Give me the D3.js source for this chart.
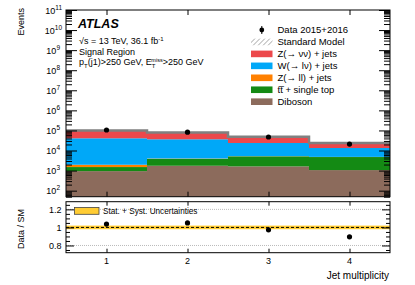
<!DOCTYPE html>
<html>
<head>
<meta charset="utf-8">
<script src="https://cdn.jsdelivr.net/npm/d3@7"></script>
<style>
  body { margin: 0; background: #fff; }
  text { font-family: "Liberation Sans", Arial, sans-serif; fill: #000; }
</style>
</head>
<body>
<div id="chart"></div>
<script>
// data
var bins = [1, 2, 3, 4];
var dataEvents = [105000, 82000, 47000, 21000];
var diboson = [940, 1740, 1620, 1060];
var ttbar = [560, 2110, 3510, 3670];
var zll = [450, 150, 100, 80];
var wlv = [38700, 32300, 18470, 8500];
var znn = [60000, 41700, 24600, 10090];
var ratio = [1.037, 1.05, 0.973, 0.896];
var decades = [2, 3, 4, 5, 6, 7, 8, 9, 10, 11];
var ratioTicks = ["0.8", "1", "1.2"];

var series = [
  {name: "Diboson", vals: diboson, color: "#8c6b5c"},
  {name: "tt\u0305 + single top", vals: ttbar, color: "#148a14"},
  {name: "Z(\u2192 ll) + jets", vals: zll, color: "#ff8000"},
  {name: "W(\u2192 l\u03bd) + jets", vals: wlv, color: "#00a8f8"},
  {name: "Z(\u2192 \u03bd\u03bd) + jets", vals: znn, color: "#ec484b"}
];

var W = 415, H = 285;
var left = 66, right = 390;
var mainTop = 10, mainBot = 196.7;
var rTop = 201.7, rBot = 252.7;

var svg = d3.select("#chart").append("svg")
  .attr("width", W).attr("height", H);

var x = d3.scaleLinear().domain([0.5, 4.5]).range([left, right]);
var y = d3.scaleLog().domain([50, 1e11]).range([mainBot, mainTop]).clamp(true);
var yr = d3.scaleLinear().domain([0.72, 1.285]).range([rBot, rTop]);

// stacked histogram
var cum = bins.map(function() { return 0; });
series.forEach(function(s) {
  var lows = cum.slice();
  cum = cum.map(function(c, i) { return c + s.vals[i]; });
  var highs = cum.slice();
  svg.append("g").selectAll("rect")
    .data(bins)
    .enter().append("rect")
    .attr("x", function(d) { return x(d - 0.5); })
    .attr("width", function(d) { return x(d + 0.5) - x(d - 0.5); })
    .attr("y", function(d, i) { return y(highs[i]); })
    .attr("height", function(d, i) { return (lows[i] > 0 ? y(lows[i]) : mainBot) - y(highs[i]); })
    .attr("fill", s.color);
});
var totals = cum;

// SM total outline
var step = [];
bins.forEach(function(b, i) {
  step.push([x(b - 0.5), y(totals[i])]);
  step.push([x(b + 0.5), y(totals[i])]);
});
svg.append("path")
  .attr("d", d3.line()(step))
  .attr("fill", "none")
  .attr("stroke", "#808080")
  .attr("stroke-width", 2.5);

// data points
svg.append("g").selectAll("circle")
  .data(bins)
  .enter().append("circle")
  .attr("cx", function(d) { return x(d); })
  .attr("cy", function(d, i) { return y(dataEvents[i]); })
  .attr("r", 2.6)
  .attr("fill", "#000");

// main axes (ticks inside)
var majorVals = decades.map(function(e) { return Math.pow(10, e); });
var minorVals = [];
for (var e = 1; e < 11; e++) {
  for (var m = 2; m < 10; m++) {
    var v = m * Math.pow(10, e);
    if (v >= 50) minorVals.push(v);
  }
}
svg.append("g").attr("transform", "translate(" + left + ",0)")
  .call(d3.axisLeft(y).tickValues(majorVals).tickSize(-11).tickFormat(""));
svg.append("g").attr("transform", "translate(" + left + ",0)")
  .call(d3.axisLeft(y).tickValues(minorVals).tickSize(-6).tickFormat(""));
svg.append("g").attr("transform", "translate(" + right + ",0)")
  .call(d3.axisRight(y).tickValues(majorVals).tickSize(-11).tickFormat(""));
svg.append("g").attr("transform", "translate(" + right + ",0)")
  .call(d3.axisRight(y).tickValues(minorVals).tickSize(-6).tickFormat(""));
svg.append("g").attr("transform", "translate(0," + mainBot + ")")
  .call(d3.axisBottom(x).tickValues(bins).tickSize(-5).tickFormat(""));
svg.append("g").attr("transform", "translate(0," + mainTop + ")")
  .call(d3.axisTop(x).tickValues(bins).tickSize(-5).tickFormat(""));
svg.selectAll(".domain").remove();

svg.append("rect")
  .attr("x", left).attr("y", mainTop)
  .attr("width", right - left).attr("height", mainBot - mainTop)
  .attr("fill", "none").attr("stroke", "#000").attr("stroke-width", 1);

// log labels
var lbl = svg.append("g").selectAll("text")
  .data(decades)
  .enter().append("text")
  .attr("x", function(d) { return d >= 10 ? 62 : 60; })
  .attr("y", function(d) { return y(Math.pow(10, d)) + 3.5; })
  .attr("text-anchor", "end")
  .style("font-size", "9px");
lbl.append("tspan").text("10");
lbl.append("tspan").attr("dy", -4).style("font-size", "6.5px").text(function(d) { return d; });

svg.append("text")
  .attr("transform", "translate(24,8) rotate(-90)")
  .attr("text-anchor", "end")
  .style("font-size", "9px")
  .text("Events");

// ATLAS labels
svg.append("text").attr("x", 78).attr("y", 28)
  .style("font-size", "12.5px").style("font-weight", "bold").style("font-style", "italic")
  .text("ATLAS");
var t1 = svg.append("text").attr("x", 79).attr("y", 44).style("font-size", "9px");
t1.append("tspan").text("\u221As = 13 TeV, 36.1 fb");
t1.append("tspan").attr("dy", -3.5).style("font-size", "6px").text("-1");
svg.append("text").attr("x", 79).attr("y", 55).style("font-size", "9px").text("Signal Region");
var t3 = svg.append("text").attr("x", 79).attr("y", 65).style("font-size", "9px");
t3.append("tspan").text("p");
t3.append("tspan").attr("dy", 2.5).style("font-size", "6px").text("T");
t3.append("tspan").attr("dy", -2.5).text("(j1)>250 GeV, E");
t3.append("tspan").attr("dy", 2.5).style("font-size", "6px").text("T");
t3.append("tspan").attr("dx", -4).attr("dy", -6).style("font-size", "5.5px").text("miss");
t3.append("tspan").attr("dy", 3.5).text(">250 GeV");

// legend
var defs = svg.append("defs");
var pat = defs.append("pattern").attr("id", "hatch")
  .attr("patternUnits", "userSpaceOnUse").attr("width", 3.5).attr("height", 3.5)
  .attr("patternTransform", "rotate(45)");
pat.append("line").attr("x1", 0).attr("y1", 0).attr("x2", 0).attr("y2", 3.5)
  .attr("stroke", "#777").attr("stroke-width", 1);

var legRows = [
  {name: "Data 2015+2016", type: "data"},
  {name: "Standard Model", type: "sm"}
].concat(series.slice().reverse().map(function(s) { return {name: s.name, type: "fill", color: s.color}; }));

var leg = svg.append("g").selectAll("g")
  .data(legRows)
  .enter().append("g")
  .attr("transform", function(d, i) { return "translate(251," + (30 + i * 11.95) + ")"; });
leg.each(function(d) {
  var g = d3.select(this);
  if (d.type === "data") {
    g.append("circle").attr("cx", 10.8).attr("cy", 0).attr("r", 2.4).attr("fill", "#000");
    g.append("line").attr("x1", 10.8).attr("x2", 10.8).attr("y1", -4).attr("y2", 4).attr("stroke", "#000");
  } else if (d.type === "sm") {
    g.append("rect").attr("x", 0).attr("y", -3.3).attr("width", 21.5).attr("height", 6.6)
      .attr("fill", "url(#hatch)");
  } else {
    g.append("rect").attr("x", 0).attr("y", -3.3).attr("width", 21.5).attr("height", 6.6)
      .attr("fill", d.color);
  }
  g.append("text").attr("x", 26.5).attr("y", 3.4)
    .style("font-size", "9.5px").text(d.name);
});

// ratio panel
svg.append("rect")
  .attr("x", left).attr("y", yr(1.02))
  .attr("width", right - left).attr("height", yr(0.98) - yr(1.02))
  .attr("fill", "#ffcc33");
[0.8, 1.2].forEach(function(v) {
  svg.append("line").attr("x1", left).attr("x2", right)
    .attr("y1", yr(v)).attr("y2", yr(v))
    .attr("stroke", "#bbb").attr("stroke-width", 1).attr("stroke-dasharray", "1,1");
});
svg.append("line").attr("x1", left).attr("x2", right)
  .attr("y1", yr(1)).attr("y2", yr(1))
  .attr("stroke", "#000").attr("stroke-width", 1).attr("stroke-dasharray", "3,2");

svg.append("g").selectAll("circle")
  .data(bins)
  .enter().append("circle")
  .attr("cx", function(d) { return x(d); })
  .attr("cy", function(d, i) { return yr(ratio[i]); })
  .attr("r", 2.6)
  .attr("fill", "#000");

var rMajor = [0.8, 1.0, 1.2];
var rMinor = d3.range(0.75, 1.29, 0.05).filter(function(v) {
  return rMajor.every(function(m) { return Math.abs(m - v) > 0.01; });
});
svg.append("g").attr("transform", "translate(" + left + ",0)")
  .call(d3.axisLeft(yr).tickValues(rMajor).tickSize(-8).tickFormat(""));
svg.append("g").attr("transform", "translate(" + left + ",0)")
  .call(d3.axisLeft(yr).tickValues(rMinor).tickSize(-4).tickFormat(""));
svg.append("g").attr("transform", "translate(" + right + ",0)")
  .call(d3.axisRight(yr).tickValues(rMajor).tickSize(-8).tickFormat(""));
svg.append("g").attr("transform", "translate(" + right + ",0)")
  .call(d3.axisRight(yr).tickValues(rMinor).tickSize(-4).tickFormat(""));
svg.append("g").attr("transform", "translate(0," + rBot + ")")
  .call(d3.axisBottom(x).tickValues(bins).tickSize(-4).tickFormat(""));
svg.append("g").attr("transform", "translate(0," + rTop + ")")
  .call(d3.axisTop(x).tickValues(bins).tickSize(-4).tickFormat(""));
svg.selectAll(".domain").remove();

svg.append("rect")
  .attr("x", left).attr("y", rTop)
  .attr("width", right - left).attr("height", rBot - rTop)
  .attr("fill", "none").attr("stroke", "#000").attr("stroke-width", 1);

svg.append("g").selectAll("text")
  .data(ratioTicks)
  .enter().append("text")
  .attr("x", 61.5)
  .attr("y", function(d) { return yr(+d) + 3.3; })
  .attr("text-anchor", "end")
  .style("font-size", "9px")
  .text(function(d) { return d; });

svg.append("g").selectAll("text")
  .data(bins)
  .enter().append("text")
  .attr("x", function(d) { return x(d); })
  .attr("y", 263.5)
  .attr("text-anchor", "middle")
  .style("font-size", "9px")
  .text(function(d) { return d; });

svg.append("text")
  .attr("x", 389).attr("y", 278.5)
  .attr("text-anchor", "end")
  .style("font-size", "10px")
  .text("Jet multiplicity");

svg.append("text")
  .attr("transform", "translate(24,229) rotate(-90)")
  .attr("text-anchor", "middle")
  .style("font-size", "9px")
  .text("Data / SM");

// ratio legend
svg.append("rect")
  .attr("x", 74.5).attr("y", 207.5).attr("width", 24.5).attr("height", 6.8)
  .attr("fill", "#ffcc33").attr("stroke", "#444").attr("stroke-width", 0.8);
svg.append("text")
  .attr("x", 103).attr("y", 213.8)
  .style("font-size", "8.2px")
  .text("Stat. + Syst. Uncertainties");
</script>
</body>
</html>
